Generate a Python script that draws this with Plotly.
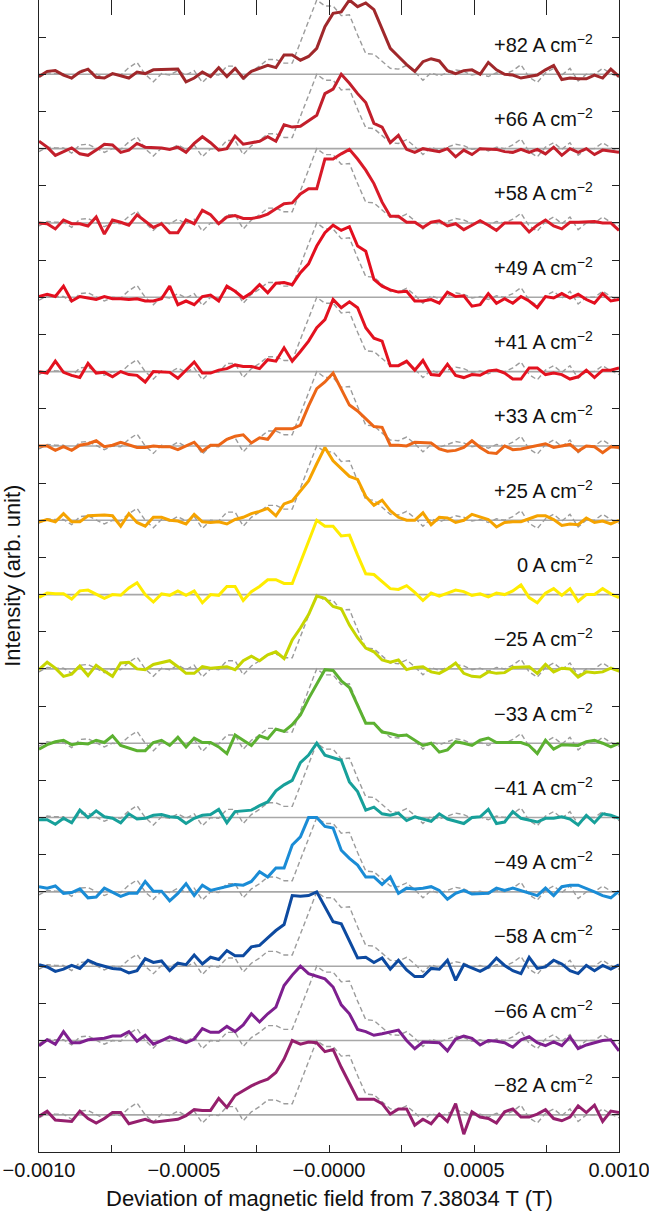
import numpy as np
import plotly.graph_objects as go

# Magnetic field deviation grid (T)
FIELD = np.linspace(-0.001, 0.001, 72)

LABELS = ["+82", "+66", "+58", "+49", "+41", "+33", "+25", "0",
          "\u221225", "\u221233", "\u221241", "\u221249", "\u221258", "\u221266", "\u221282"]

COLORS = ["#a0282b", "#c21f2b", "#d91a28", "#e30e1e", "#e3121f", "#ec6617", "#f5a300",
          "#ffec00", "#c6d500", "#5cb131", "#17a09a", "#1a8cd6", "#0d4aa0", "#7e1f8f", "#951f6d"]

I_P82 = [-0.03, 0.04, 0.05, -0.01, -0.05, 0.03, 0.07, -0.04, -0.05, 0.01, -0.02, -0.05, 0.03, 0.01, 0.06, 0.06,
         0.06, 0.07, -0.10, -0.05, 0.03, -0.03, 0.09, -0.03, 0.08, -0.05, 0.04, 0.08, 0.12, 0.09, 0.26, 0.26,
         0.19, 0.24, 0.35, 0.64, 0.82, 0.84, 1.00, 0.91, 0.96, 0.87, 0.62, 0.35, 0.24, 0.13, 0.04, 0.17,
         0.21, 0.18, 0.05, 0.01, 0.05, 0.06, 0.00, 0.16, 0.06, 0.00, -0.01, -0.05, -0.03, -0.01, 0.06, 0.12,
         -0.07, -0.05, -0.06, -0.06, -0.01, -0.05, 0.07, -0.03]
I_P66 = [0.10, 0.02, -0.09, -0.04, 0.01, -0.07, -0.09, -0.02, 0.06, 0.05, -0.05, -0.02, 0.07, 0.02, 0.02, 0.01,
         -0.01, 0.02, -0.05, 0.07, 0.16, 0.08, -0.02, 0.00, 0.17, 0.06, 0.08, 0.10, 0.16, 0.10, 0.32, 0.29,
         0.30, 0.38, 0.45, 0.74, 0.80, 1.00, 0.88, 0.74, 0.62, 0.34, 0.29, 0.08, 0.18, -0.01, -0.05, 0.00,
         -0.02, -0.04, 0.00, -0.11, -0.02, -0.08, 0.00, -0.01, -0.01, -0.04, -0.05, -0.01, -0.05, -0.01, -0.07, 0.02,
         -0.09, 0.00, -0.05, 0.00, -0.08, -0.02, -0.04, -0.05]
I_P58 = [0.00, -0.01, -0.08, 0.04, -0.01, -0.01, -0.04, 0.08, -0.15, 0.04, 0.01, -0.03, 0.11, 0.02, -0.06, -0.01,
         -0.13, -0.13, 0.04, -0.01, 0.17, 0.11, -0.01, 0.08, 0.10, 0.06, 0.06, 0.08, 0.12, 0.19, 0.26, 0.27,
         0.39, 0.46, 0.46, 0.86, 0.86, 0.93, 0.99, 0.86, 0.71, 0.53, 0.28, 0.09, 0.09, 0.01, 0.01, -0.06,
         0.01, 0.03, -0.04, -0.01, -0.09, -0.03, 0.03, -0.03, -0.10, 0.00, 0.00, 0.00, -0.12, -0.03, 0.04, -0.04,
         -0.08, 0.01, 0.01, 0.01, 0.02, 0.00, 0.00, -0.10]
I_P49 = [0.01, 0.04, 0.01, 0.15, -0.05, 0.01, -0.01, -0.03, 0.01, -0.02, -0.02, -0.03, -0.02, -0.05, -0.05, -0.02,
         0.15, -0.10, -0.05, -0.10, 0.01, 0.03, -0.05, 0.15, 0.08, -0.01, 0.06, 0.17, 0.06, 0.19, 0.20, 0.17,
         0.33, 0.45, 0.69, 0.87, 0.97, 0.90, 0.95, 0.69, 0.62, 0.24, 0.15, 0.10, 0.07, 0.08, -0.05, -0.05,
         -0.03, -0.08, 0.07, 0.01, 0.02, -0.12, -0.10, 0.05, -0.08, -0.02, -0.08, 0.01, -0.05, -0.14, 0.01, -0.01,
         0.05, -0.01, 0.04, -0.03, -0.08, 0.05, -0.05, -0.03]
I_P41 = [0.00, -0.02, 0.14, -0.01, -0.05, -0.08, 0.11, -0.02, -0.01, -0.07, 0.00, -0.04, -0.05, -0.14, 0.00, 0.00,
         -0.01, -0.09, 0.02, 0.13, -0.02, -0.02, 0.02, 0.04, 0.09, 0.07, 0.07, 0.04, 0.16, 0.14, 0.32, 0.14,
         0.27, 0.41, 0.59, 0.70, 0.97, 0.86, 0.94, 0.86, 0.59, 0.45, 0.41, 0.08, 0.08, 0.14, 0.02, 0.15,
         -0.04, -0.05, 0.10, -0.05, -0.08, -0.04, -0.05, 0.01, 0.02, -0.02, -0.10, -0.10, 0.05, 0.05, -0.04, -0.02,
         -0.04, -0.10, -0.07, 0.02, -0.08, 0.02, 0.02, 0.05]
I_P33 = [0.00, 0.00, -0.06, -0.01, -0.06, 0.01, 0.03, 0.07, -0.01, 0.01, 0.05, 0.01, -0.02, -0.02, 0.00, -0.01,
         -0.01, -0.05, 0.00, 0.05, -0.07, 0.01, 0.01, 0.09, 0.13, 0.15, 0.04, 0.11, 0.09, 0.23, 0.23, 0.23,
         0.28, 0.54, 0.77, 0.86, 0.98, 0.77, 0.55, 0.47, 0.37, 0.26, 0.25, 0.01, 0.01, 0.00, 0.05, 0.05,
         0.04, -0.04, -0.07, -0.06, -0.02, 0.07, -0.02, -0.09, -0.10, 0.00, -0.05, -0.04, -0.02, 0.00, 0.03, -0.02,
         0.00, 0.02, -0.07, 0.00, -0.01, -0.09, -0.01, -0.02]
I_P25 = [-0.02, 0.01, -0.02, 0.09, -0.02, -0.02, 0.06, 0.07, 0.07, 0.06, -0.08, 0.09, -0.03, -0.08, 0.04, 0.04,
         0.00, -0.01, -0.05, 0.08, -0.02, -0.03, -0.02, -0.05, 0.01, 0.04, 0.09, 0.12, 0.16, 0.06, 0.22, 0.26,
         0.40, 0.53, 0.76, 0.98, 0.80, 0.69, 0.59, 0.55, 0.32, 0.20, 0.27, 0.13, 0.04, 0.00, 0.00, 0.10,
         -0.06, 0.04, 0.03, -0.03, 0.00, 0.08, 0.04, 0.01, -0.09, -0.03, -0.02, -0.02, 0.02, 0.06, 0.06, 0.01,
         -0.07, -0.05, -0.06, 0.03, -0.03, -0.01, -0.05, 0.00]
I_ZERO = [-0.04, 0.02, 0.01, 0.01, -0.06, 0.05, 0.06, 0.00, -0.05, 0.00, -0.01, 0.09, 0.16, 0.00, -0.10, 0.01,
          -0.01, 0.05, -0.01, 0.05, -0.11, 0.00, -0.01, 0.11, 0.11, -0.08, 0.04, 0.11, 0.20, 0.20, 0.15, 0.15,
          0.44, 0.71, 1.00, 0.92, 0.92, 0.79, 0.80, 0.53, 0.28, 0.27, 0.18, 0.08, 0.07, 0.12, 0.03, -0.08,
          0.02, -0.02, 0.02, 0.06, 0.04, -0.01, 0.01, -0.03, 0.02, 0.00, 0.05, 0.13, -0.04, -0.11, 0.02, 0.08,
          -0.01, 0.08, -0.09, 0.00, 0.00, 0.08, 0.01, -0.04]
I_M25 = [-0.01, 0.09, 0.01, -0.10, -0.07, 0.04, -0.09, 0.05, -0.03, -0.10, 0.08, 0.09, 0.00, -0.01, 0.06, 0.08,
         0.11, 0.03, -0.06, -0.06, 0.03, 0.01, 0.02, 0.03, -0.01, 0.11, 0.17, 0.11, 0.19, 0.23, 0.14, 0.39,
         0.55, 0.73, 0.98, 0.95, 0.84, 0.81, 0.59, 0.42, 0.28, 0.23, 0.12, 0.09, 0.12, -0.01, 0.02, 0.03,
         -0.04, -0.06, 0.00, 0.08, -0.06, -0.10, -0.11, -0.04, -0.06, -0.05, 0.02, 0.02, 0.03, -0.06, 0.06, -0.04,
         0.01, 0.00, -0.11, -0.04, -0.05, -0.04, 0.01, -0.03]
I_M33 = [-0.08, -0.02, 0.02, 0.04, -0.02, 0.00, -0.01, 0.04, 0.01, 0.10, -0.03, -0.07, -0.10, -0.10, 0.01, 0.04,
         -0.03, 0.08, -0.05, 0.07, 0.01, 0.01, -0.05, -0.14, 0.11, 0.04, -0.03, 0.10, 0.06, 0.19, 0.16, 0.25,
         0.38, 0.60, 0.79, 0.99, 0.98, 0.84, 0.75, 0.51, 0.27, 0.27, 0.15, 0.13, 0.10, 0.11, 0.04, -0.03,
         0.00, -0.12, -0.09, 0.02, 0.00, -0.03, 0.04, 0.07, 0.01, 0.01, 0.02, 0.01, -0.03, -0.14, 0.04, -0.08,
         -0.02, -0.03, -0.03, 0.02, 0.04, 0.00, -0.05, 0.00]
I_M41 = [-0.03, -0.03, -0.09, -0.01, -0.07, 0.10, 0.00, 0.09, 0.01, -0.01, -0.07, 0.05, -0.02, -0.01, 0.03, 0.04,
         0.01, 0.00, -0.08, -0.01, 0.03, 0.04, 0.11, -0.07, 0.08, 0.09, 0.10, 0.16, 0.21, 0.36, 0.44, 0.50,
         0.74, 0.84, 1.00, 0.84, 0.80, 0.77, 0.48, 0.35, 0.10, 0.14, 0.05, 0.03, 0.06, -0.04, 0.01, -0.02,
         -0.05, 0.05, -0.02, -0.05, -0.08, 0.00, 0.01, 0.11, -0.08, -0.06, 0.08, -0.01, -0.04, -0.06, -0.01, -0.01,
         0.01, -0.02, -0.10, 0.03, -0.07, 0.05, 0.03, -0.01]
I_M49 = [0.07, 0.05, 0.08, -0.02, -0.01, 0.04, -0.08, -0.07, 0.05, -0.01, -0.06, -0.02, -0.02, 0.14, 0.01, 0.01,
         -0.12, -0.02, 0.11, -0.05, 0.09, 0.02, 0.05, 0.08, 0.10, 0.09, 0.14, 0.27, 0.20, 0.32, 0.32, 0.63,
         0.74, 1.00, 1.00, 0.88, 0.86, 0.56, 0.45, 0.36, 0.20, 0.20, 0.10, 0.20, -0.02, 0.05, 0.04, 0.05,
         0.07, 0.02, -0.10, -0.02, 0.02, -0.03, -0.03, -0.02, 0.05, 0.02, 0.05, 0.02, -0.02, -0.05, 0.05, -0.05,
         0.07, 0.09, 0.09, 0.05, 0.00, -0.05, -0.08, 0.01]
I_M58 = [0.02, -0.01, -0.07, -0.04, 0.01, -0.03, 0.08, 0.03, 0.00, -0.03, -0.04, -0.09, -0.06, 0.10, 0.05, 0.07,
         -0.06, 0.04, 0.02, 0.15, 0.03, 0.12, 0.09, 0.21, 0.14, 0.14, 0.26, 0.28, 0.38, 0.48, 0.56, 0.95,
         0.94, 0.95, 1.00, 0.80, 0.60, 0.57, 0.35, 0.11, 0.12, 0.05, 0.11, -0.04, 0.08, -0.05, -0.14, -0.14,
         -0.03, -0.04, 0.08, -0.19, 0.02, -0.03, -0.07, -0.01, 0.11, 0.01, -0.06, -0.10, 0.12, -0.03, -0.01, 0.08,
         0.03, -0.06, -0.10, 0.01, -0.06, 0.01, -0.04, 0.02]
I_M66 = [-0.07, 0.01, -0.05, 0.12, -0.03, -0.03, 0.01, 0.02, 0.03, 0.06, 0.06, 0.12, -0.01, 0.07, -0.05, 0.00,
         0.05, 0.01, -0.03, 0.02, 0.16, 0.11, 0.11, 0.19, 0.12, 0.21, 0.36, 0.25, 0.36, 0.45, 0.74, 0.88,
         1.00, 0.90, 0.87, 0.83, 0.72, 0.48, 0.36, 0.15, 0.12, 0.07, 0.09, 0.11, 0.14, 0.00, -0.11, -0.02,
         -0.03, -0.03, -0.14, 0.02, 0.06, 0.03, -0.06, 0.00, -0.01, -0.03, -0.09, 0.01, 0.05, -0.03, -0.07, -0.02,
         -0.07, 0.05, -0.11, -0.06, -0.03, 0.00, 0.01, -0.14]
I_M82 = [-0.02, 0.05, -0.07, -0.08, -0.09, 0.05, -0.05, -0.11, -0.05, 0.03, 0.03, -0.12, -0.09, -0.06, -0.10, -0.09,
         -0.07, -0.06, -0.01, 0.07, 0.06, 0.06, 0.22, 0.10, 0.26, 0.33, 0.39, 0.44, 0.48, 0.57, 0.75, 1.00,
         0.95, 0.98, 0.97, 0.85, 0.88, 0.64, 0.42, 0.21, 0.21, 0.21, 0.15, 0.01, 0.08, 0.08, -0.14, -0.06,
         -0.12, 0.01, -0.09, 0.15, -0.26, 0.04, -0.03, -0.05, -0.11, 0.04, 0.08, -0.03, -0.03, 0.01, 0.07, -0.05,
         -0.08, -0.03, 0.12, 0.03, 0.13, -0.09, 0.05, 0.03]

SERIES = [I_P82, I_P66, I_P58, I_P49, I_P41, I_P33, I_P25, I_ZERO,
          I_M25, I_M33, I_M41, I_M49, I_M58, I_M66, I_M82]
REFERENCE = I_ZERO

XTICK_VALS = [-0.001, -0.0005, 0.0, 0.0005, 0.001]
XTICK_TEXT = ["\u22120.0010", "\u22120.0005", "\u22120.0000", "0.0005", "0.0010"]

FONT = "Liberation Sans, Arial, Helvetica, sans-serif"
n = len(SERIES)
fig = go.Figure()

# baselines
for k in range(n):
    off = n - 1 - k
    fig.add_trace(go.Scatter(x=[FIELD[0], FIELD[-1]], y=[off, off], mode="lines",
                             line=dict(color="#a8a8a8", width=1.6), hoverinfo="skip", showlegend=False))
# dashed reference (0 A cm^-2)
for k in range(n):
    if LABELS[k] == "0":
        continue
    off = n - 1 - k
    fig.add_trace(go.Scatter(x=FIELD, y=np.array(REFERENCE) + off, mode="lines",
                             line=dict(color="#9c9c9c", width=1.4, dash="5px,3px"),
                             hoverinfo="skip", showlegend=False))
# measured traces
for k in range(n):
    off = n - 1 - k
    fig.add_trace(go.Scatter(x=FIELD, y=np.array(SERIES[k]) + off, mode="lines",
                             line=dict(color=COLORS[k], width=3), name=LABELS[k], showlegend=False))
    fig.add_annotation(x=0.958, xref="paper", y=off + 0.42, yref="y", xanchor="right", yanchor="middle",
                       text=LABELS[k] + " A cm<sup>\u22122</sup>", showarrow=False,
                       font=dict(family=FONT, size=20, color="#111"))

# axis titles
fig.add_annotation(x=-0.047, xref="paper", y=0.5, yref="paper", text="Intensity (arb. unit)",
                   textangle=-90, showarrow=False, xanchor="center", yanchor="middle",
                   font=dict(family=FONT, size=22, color="#111"))
fig.add_annotation(x=0.5, xref="paper", y=-0.0405, yref="paper",
                   text="Deviation of magnetic field from 7.38034 T (T)",
                   showarrow=False, xanchor="center", yanchor="middle",
                   font=dict(family=FONT, size=22, color="#111"))

fig.update_layout(
    width=649, height=1213,
    margin=dict(l=39, r=30, t=0, b=61),
    plot_bgcolor="white", paper_bgcolor="white",
    font=dict(family=FONT, color="#111"),
    xaxis=dict(range=[-0.001, 0.001], tickvals=XTICK_VALS, ticktext=XTICK_TEXT, automargin=False,
               ticklabeloverflow="allow",
               ticks="inside", ticklen=7, tickwidth=1, tickcolor="#222",
               minor=dict(ticks="inside", ticklen=7, tickwidth=1, tickcolor="#222",
                          tick0=-0.001, dtick=0.00025, showgrid=False),
               showline=True, linecolor="#222", linewidth=1, mirror=False,
               showgrid=False, zeroline=False, tickfont=dict(family=FONT, size=20, color="#111")),
    xaxis2=dict(range=[-0.001, 0.001], tick0=-0.001, dtick=0.00025, automargin=False,
                overlaying="x", side="top", anchor="y", ticks="inside", ticklen=15, tickwidth=1,
                tickcolor="#222", showticklabels=False, showline=False, showgrid=False, zeroline=False),
    yaxis=dict(range=[-0.5, 15.0], tick0=0, dtick=0.5, ticks="inside", ticklen=7, tickwidth=1,
               tickcolor="#222", showticklabels=False, showline=True, linecolor="#222", automargin=False,
               linewidth=1, mirror="ticks", showgrid=False, zeroline=False),
)
# invisible trace to anchor top axis
fig.add_trace(go.Scatter(x=[0], y=[0], xaxis="x2", mode="markers", marker=dict(opacity=0),
                         hoverinfo="skip", showlegend=False))

fig.write_html("out.html", config={"displayModeBar": False},
               post_script="document.body.style.margin='0';document.body.style.overflow='hidden';")
